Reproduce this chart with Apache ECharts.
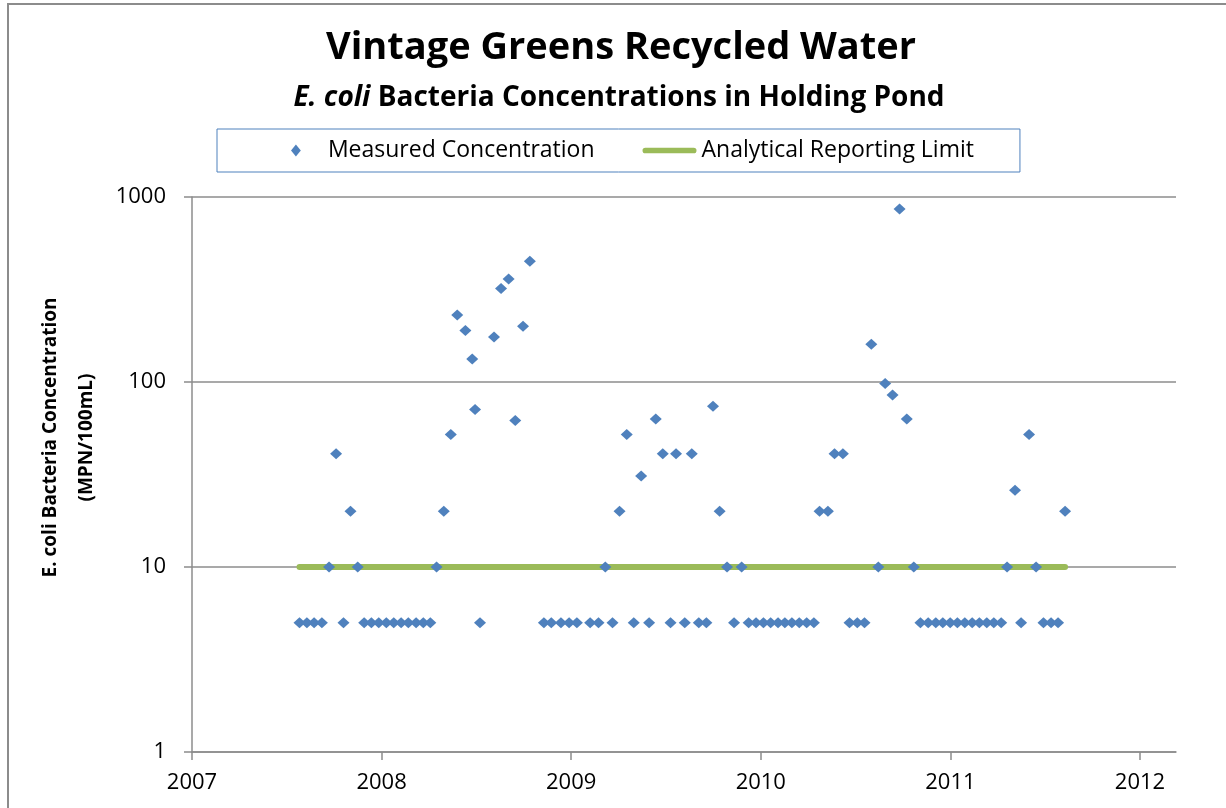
<!DOCTYPE html>
<html lang="en">
<head>
    <meta charset="UTF-8">
    <title>Vintage Greens Recycled Water</title>
    <style>
      * {
          padding: 0;
          margin: 0;
      }
      body { background: #fff; }
      #frame {
          position: absolute;
          left: 7px;
          top: 3px;
          width: 1300px;
          height: 900px;
          border-top: 2px solid #8c8c8c;
          border-left: 2px solid #8c8c8c;
          pointer-events: none;
      }
   </style>
</head>
<body>
    <div id="main" style="width: 1226px;height:808px;"></div>
    <div id="frame"></div>
    <script src="https://cdn.jsdelivr.net/npm/echarts@6/dist/echarts.min.js"></script>
    <script>
        // sample dates as decimal years
        var sampleYears = [
            2007.567, 2007.606, 2007.644, 2007.685, 2007.723, 2007.760, 2007.799, 2007.836, 2007.874, 2007.908,
            2007.946, 2007.985, 2008.025, 2008.064, 2008.103, 2008.141, 2008.182, 2008.220, 2008.257, 2008.290,
            2008.328, 2008.365, 2008.399, 2008.442, 2008.478, 2008.493, 2008.519, 2008.593, 2008.630, 2008.670,
            2008.705, 2008.746, 2008.782, 2008.856, 2008.895, 2008.946, 2008.989, 2009.030, 2009.100, 2009.144,
            2009.180, 2009.218, 2009.255, 2009.293, 2009.330, 2009.369, 2009.411, 2009.446, 2009.483, 2009.524,
            2009.553, 2009.599, 2009.636, 2009.673, 2009.713, 2009.748, 2009.783, 2009.822, 2009.859, 2009.899,
            2009.936, 2009.975, 2010.014, 2010.052, 2010.091, 2010.127, 2010.164, 2010.203, 2010.242, 2010.280,
            2010.310, 2010.354, 2010.389, 2010.433, 2010.468, 2010.509, 2010.547, 2010.583, 2010.620, 2010.656,
            2010.695, 2010.732, 2010.770, 2010.807, 2010.842, 2010.883, 2010.923, 2010.960, 2010.999, 2011.037,
            2011.076, 2011.115, 2011.153, 2011.192, 2011.229, 2011.268, 2011.299, 2011.341, 2011.373, 2011.415,
            2011.452, 2011.491, 2011.531, 2011.568, 2011.605
        ];
        // MPN/100mL
        var measured = [
            5, 5, 5, 5, 10, 41, 5, 20, 10, 5,
            5, 5, 5, 5, 5, 5, 5, 5, 5, 10,
            20, 52, 230, 190, 133, 71, 5, 175, 320, 360,
            62, 200, 450, 5, 5, 5, 5, 5, 5, 5,
            10, 5, 20, 52, 5, 31, 5, 63, 41, 5,
            41, 5, 41, 5, 5, 74, 20, 10, 5, 10,
            5, 5, 5, 5, 5, 5, 5, 5, 5, 5,
            20, 20, 41, 41, 5, 5, 5, 160, 10, 98,
            85, 860, 63, 10, 5, 5, 5, 5, 5, 5,
            5, 5, 5, 5, 5, 5, 10, 26, 5, 52,
            10, 5, 5, 5, 20
        ];
        var limitYears = [2007.567, 2011.605];
        var limitValues = [10, 10];
        var yearTicks = [2007, 2008, 2009, 2010, 2011, 2012];
        var yTicks = [1, 10, 100, 1000];

        var font = 'Open Sans';
        var scatterData = sampleYears.map(function (y, i) { return [y, measured[i]]; });
        var limitData = limitYears.map(function (y, i) { return [y, limitValues[i]]; });

        // legend icons (path so that keepAspect applies)
        var diamondIcon = 'path://M4.5,0 L9,5.5 L4.5,11 L0,5.5 Z';
        var barIcon = 'path://M3,0 L54,0 A3,3 0 0 1 54,6 L3,6 A3,3 0 0 1 3,0 Z';

        option = {
            animation: false,
            title: [
                {
                    text: 'Vintage Greens Recycled Water',
                    left: 616,
                    top: 24,
                    textAlign: 'center',
                    textStyle: { fontFamily: font, fontWeight: 'bold', fontSize: 38, color: '#000' }
                },
                {
                    text: '{i|E. coli} Bacteria Concentrations in Holding Pond',
                    left: 614,
                    top: 79,
                    textAlign: 'center',
                    textStyle: {
                        fontFamily: font, fontWeight: 'bold', fontSize: 28, color: '#000',
                        rich: {
                            i: { fontFamily: font, fontWeight: 'bold', fontStyle: 'italic', fontSize: 28, color: '#000' }
                        }
                    }
                }
            ],
            legend: {
                left: 217,
                top: 129,
                padding: [10, 46, 10, 74],
                borderColor: '#4F81BD',
                borderWidth: 1,
                itemWidth: 54,
                itemHeight: 12,
                itemGap: 48,
                symbolKeepAspect: true,
                textStyle: { fontFamily: font, fontSize: 23, color: '#000' },
                data: [
                    { name: 'Measured Concentration', icon: diamondIcon },
                    { name: 'Analytical Reporting Limit', icon: barIcon }
                ]
            },
            grid: {
                left: 192,
                right: 50,
                top: 197,
                bottom: 56
            },
            xAxis: {
                type: 'value',
                min: 2007,
                max: 2012.19,
                axisLine: { lineStyle: { color: '#8c8c8c', width: 1.5 } },
                axisTick: { show: true, length: 8, customValues: yearTicks, lineStyle: { color: '#8c8c8c', width: 1.5 } },
                axisLabel: {
                    customValues: yearTicks,
                    margin: 20,
                    fontFamily: font, fontSize: 22, color: '#000',
                    formatter: function (v) { return String(v); }
                },
                splitLine: { show: false }
            },
            yAxis: {
                type: 'log',
                logBase: 10,
                min: 1,
                max: 1000,
                name: 'E. coli Bacteria Concentration\n(MPN/100mL)',
                nameLocation: 'middle',
                nameRotate: 90,
                nameGap: 86,
                nameTextStyle: {
                    fontFamily: font, fontWeight: 'bold', fontSize: 19, color: '#000',
                    lineHeight: 36, padding: [0, 0, 0, 74]
                },
                axisLine: { show: true, lineStyle: { color: '#8c8c8c', width: 1.5 } },
                axisTick: { show: true, length: 8, lineStyle: { color: '#8c8c8c', width: 1.5 } },
                axisLabel: {
                    margin: 26,
                    fontFamily: font, fontSize: 22, color: '#000',
                    formatter: function (v) { return yTicks.indexOf(v) > -1 ? String(v) : ''; }
                },
                splitLine: { show: true, lineStyle: { color: '#8c8c8c', width: 1.5 } }
            },
            series: [
                {
                    name: 'Measured Concentration',
                    type: 'scatter',
                    symbol: 'diamond',
                    symbolSize: [12, 11],
                    z: 3,
                    itemStyle: { color: '#4F81BD', opacity: 1 },
                    data: scatterData
                },
                {
                    name: 'Analytical Reporting Limit',
                    type: 'line',
                    symbol: 'none',
                    z: 2,
                    lineStyle: { color: '#9BBB59', width: 6, cap: 'round' },
                    itemStyle: { color: '#9BBB59' },
                    data: limitData
                }
            ]
        };

        var myChart = echarts.init(document.getElementById('main'));
        myChart.setOption(option);
    </script>
</body>
</html>
